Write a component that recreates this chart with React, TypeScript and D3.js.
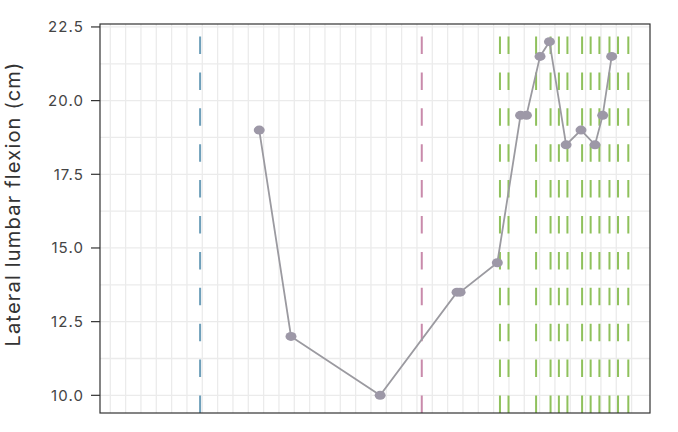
import React from "react";
import * as d3 from "d3";

// x in days, y in cm
const pointDays = [68, 82.5, 123.2, 158.3, 159.7, 176.7, 187.3, 190, 196.2, 200.5, 208.1, 214.9, 221.3, 224.8, 228.9];
const pointValues = [19, 12, 10, 13.5, 13.5, 14.5, 19.5, 19.5, 21.5, 22, 18.5, 19, 18.5, 19.5, 21.5];
const blueDays = [41];
const pinkDays = [142.2];
const greenDays = [177.9, 181.8, 194.4, 201, 204.8, 208.7, 215.4, 219.3, 223.3, 227.9, 231.8, 236.5];
const yTicks = [10, 12.5, 15, 17.5, 20, 22.5];
const yLabel = "Lateral lumbar flexion (cm)";

const W = 678;
const H = 432;
const panel = { left: 100, right: 650, top: 24, bottom: 413 };

export default function App() {
  const x = d3.scaleLinear().domain([-4.7, 246.4]).range([panel.left, panel.right]);
  const y = d3.scaleLinear().domain([9.4, 22.6]).range([panel.bottom, panel.top]);

  const vGrid = d3.range(0, 239, 7);
  const hGrid = d3.range(10, 22.6, 1.25);

  const line = d3
    .line<number>()
    .x((_, i) => x(pointDays[i]))
    .y((v) => y(v));

  const dash = "17.5 18.4";
  const vline = (d: number, color: string, key: string) => (
    <line
      key={key}
      x1={x(d)}
      x2={x(d)}
      y1={panel.bottom}
      y2={panel.top}
      stroke={color}
      strokeWidth={2}
      strokeDasharray={dash}
    />
  );

  return (
    <svg
      width={W}
      height={H}
      style={{ position: "absolute", left: 0, top: 0, background: "#fff" }}
      fontFamily="Inter, 'Noto Sans', sans-serif"
    >
      <rect x={0} y={0} width={W} height={H} fill="#fff" />
      {/* grid */}
      {hGrid.map((v) => (
        <line key={"h" + v} x1={panel.left} x2={panel.right} y1={y(v)} y2={y(v)} stroke="#ebebeb" strokeWidth={1.3} />
      ))}
      {vGrid.map((d) => (
        <line key={"v" + d} x1={x(d)} x2={x(d)} y1={panel.top} y2={panel.bottom} stroke="#ebebeb" strokeWidth={1.3} />
      ))}
      {/* reference lines */}
      {blueDays.map((d, i) => vline(d, "#6e9fba", "b" + i))}
      {pinkDays.map((d, i) => vline(d, "#c98aab", "p" + i))}
      {greenDays.map((d, i) => vline(d, "#8fc15c", "g" + i))}
      {/* series */}
      <path d={line(pointValues) || ""} fill="none" stroke="#9b9aa0" strokeWidth={1.8} />
      {pointValues.map((v, i) => (
        <ellipse key={"pt" + i} cx={x(pointDays[i])} cy={y(v)} rx={5.5} ry={4.5} fill="#9d98a7" />
      ))}
      {/* panel border */}
      <rect
        x={panel.left}
        y={panel.top}
        width={panel.right - panel.left}
        height={panel.bottom - panel.top}
        fill="none"
        stroke="#333"
        strokeWidth={1.2}
      />
      {/* y axis ticks */}
      {yTicks.map((t) => (
        <g key={"t" + t}>
          <line x1={91} x2={panel.left} y1={y(t)} y2={y(t)} stroke="#333" strokeWidth={1.2} />
          <text
            x={84}
            y={y(t)}
            dy="0.36em"
            textAnchor="end"
            fontSize={15}
            letterSpacing={1.1}
            fill="#444"
          >
            {t.toFixed(1)}
          </text>
        </g>
      ))}
      <text
        transform={`translate(20, 204) rotate(-90)`}
        textAnchor="middle"
        fontSize={20}
        letterSpacing={1.2}
        fill="#333"
      >
        {yLabel}
      </text>
    </svg>
  );
}
